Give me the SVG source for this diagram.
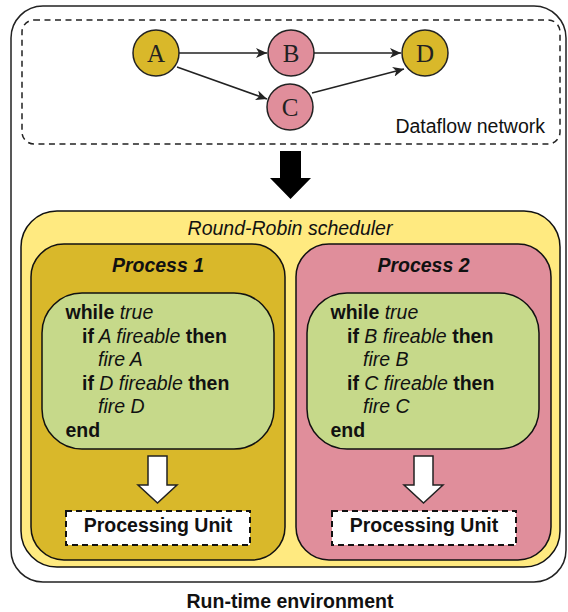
<svg xmlns="http://www.w3.org/2000/svg" width="568" height="612" viewBox="0 0 568 612">
<defs>
<marker id="ah" markerWidth="12" markerHeight="10" refX="11" refY="5" orient="auto" markerUnits="userSpaceOnUse">
<path d="M0,0 L11,5 L0,10 L3,5 Z" fill="#222"/>
</marker>
</defs>
<style>
.t{font-family:"Liberation Sans",Arial,sans-serif;font-size:19.5px;fill:#111}
.b{font-weight:bold}
.i{font-style:italic}
.ser{font-family:"Liberation Serif","Times New Roman",serif;font-size:25px;fill:#222;text-anchor:middle}
.nd{stroke:#222;stroke-width:1.5}
.box{stroke:#111;stroke-width:1.5}
.edge{stroke:#222;stroke-width:1.5;fill:none;marker-end:url(#ah)}
.pu{fill:#fff;stroke:#111;stroke-width:2;stroke-dasharray:6 4}
</style>
<rect x="0" y="0" width="568" height="612" fill="#fff"/>
<g id="runtime">
<rect x="11" y="6" width="555" height="576" rx="32" fill="#fff" stroke="#222" stroke-width="1.5"/>
<text class="t b" x="290" y="608" text-anchor="middle">Run-time environment</text>
</g>
<g id="dataflow">
<rect x="22" y="20" width="538" height="124" rx="12" fill="none" stroke="#222" stroke-width="1.5" stroke-dasharray="6 4.5"/>
<text class="t" x="545" y="133" text-anchor="end">Dataflow network</text>
</g>
<g id="connectors">
<line class="edge" x1="179" y1="53" x2="267" y2="53"/>
<line class="edge" x1="314" y1="53" x2="401" y2="53"/>
<line class="edge" x1="177" y1="67" x2="267" y2="99"/>
<line class="edge" x1="312" y1="93" x2="404" y2="69"/>
</g>
<g id="nodeA"><circle class="nd" cx="156" cy="53" r="23" fill="#D9B82A"/><text class="ser" x="156" y="62">A</text></g>
<g id="nodeB"><circle class="nd" cx="291" cy="53" r="23" fill="#E08E9B"/><text class="ser" x="291" y="62">B</text></g>
<g id="nodeC"><circle class="nd" cx="290" cy="107" r="23" fill="#E08E9B"/><text class="ser" x="290" y="116">C</text></g>
<g id="nodeD"><circle class="nd" cx="425" cy="53" r="23" fill="#D9B82A"/><text class="ser" x="425" y="62">D</text></g>
<g id="bigArrow">
<path d="M280,151 L301,151 L301,178 L311,178 L290.5,199 L270,178 L280,178 Z" fill="#000"/>
</g>
<g id="scheduler">
<rect class="box" x="21" y="211" width="539" height="356" rx="36" fill="#FFEA80"/>
<text class="t i" x="290" y="235" text-anchor="middle">Round-Robin scheduler</text>
</g>
<g id="process1">
<rect class="box" x="31" y="244" width="254" height="316" rx="33" fill="#D9B82A"/>
<text class="t b i" x="158" y="272" text-anchor="middle">Process 1</text>
<rect class="box" x="42" y="293" width="232" height="156" rx="40" fill="#C6D98A"/>
<text class="t" x="65.5" y="319"><tspan class="b">while</tspan><tspan class="i"> true</tspan></text>
<text class="t" x="82" y="342.5"><tspan class="b">if</tspan><tspan class="i"> A fireable</tspan><tspan class="b"> then</tspan></text>
<text class="t i" x="98" y="366">fire A</text>
<text class="t" x="82" y="389.5"><tspan class="b">if</tspan><tspan class="i"> D fireable</tspan><tspan class="b"> then</tspan></text>
<text class="t i" x="98" y="413">fire D</text>
<text class="t b" x="65.5" y="436.5">end</text>
<path d="M148,456 L167,456 L167,485 L177,485 L157.5,503 L138,485 L148,485 Z" fill="#fff" stroke="#222" stroke-width="1.5"/>
<rect class="pu" x="66" y="511" width="184" height="34"/>
<text class="t b" x="158" y="532" text-anchor="middle" fill="#222">Processing Unit</text>
</g>
<g id="process2">
<rect class="box" x="296" y="244" width="255" height="316" rx="33" fill="#E08E9B"/>
<text class="t b i" x="423.5" y="272" text-anchor="middle">Process 2</text>
<rect class="box" x="307" y="293" width="232" height="156" rx="40" fill="#C6D98A"/>
<text class="t" x="330.5" y="319"><tspan class="b">while</tspan><tspan class="i"> true</tspan></text>
<text class="t" x="347" y="342.5"><tspan class="b">if</tspan><tspan class="i"> B fireable</tspan><tspan class="b"> then</tspan></text>
<text class="t i" x="363" y="366">fire B</text>
<text class="t" x="347" y="389.5"><tspan class="b">if</tspan><tspan class="i"> C fireable</tspan><tspan class="b"> then</tspan></text>
<text class="t i" x="363" y="413">fire C</text>
<text class="t b" x="330.5" y="436.5">end</text>
<path d="M414,456 L433,456 L433,485 L443,485 L423.5,503 L404,485 L414,485 Z" fill="#fff" stroke="#222" stroke-width="1.5"/>
<rect class="pu" x="332" y="511" width="184" height="34"/>
<text class="t b" x="424" y="532" text-anchor="middle" fill="#222">Processing Unit</text>
</g>
</svg>
